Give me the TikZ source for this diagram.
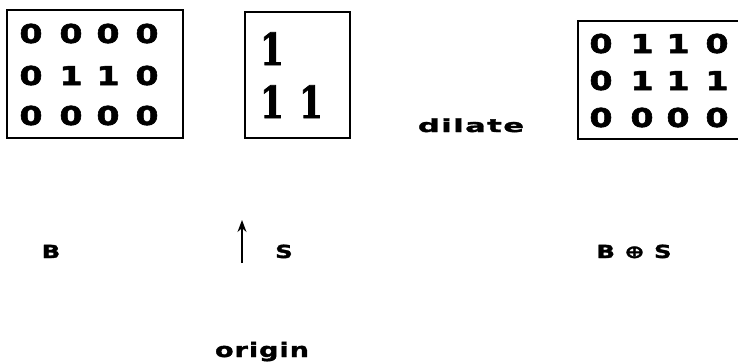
\documentclass[tikz,border=0pt]{standalone}
\usepackage{fontspec}
\newfontfamily\bitfont[FakeStretch=1.28,FakeBold=2.2]{DejaVu Sans Bold}
\newfontfamily\onefont[FakeStretch=0.78,FakeBold=1.8]{DejaVu Serif Bold}
\newfontfamily\capfont[FakeStretch=1.35,LetterSpace=5,FakeBold=1.8]{DejaVu Sans Bold}
\newfontfamily\widecapfont[FakeStretch=1.7,LetterSpace=8,FakeBold=1.8]{DejaVu Sans Bold}
\usetikzlibrary{arrows.meta, positioning}

\begin{document}
\begin{tikzpicture}[
    x=1pt, y=-1pt,
    % === STYLES ===
    matbox/.style={
        rectangle,
        draw=black,
        line width=1.3pt,
        inner sep=0pt
    },
    bit/.style={
        font=\bitfont\fontsize{26}{26}\selectfont,
        anchor=base,
        inner sep=0pt
    },
    bigbit/.style={
        font=\onefont\fontsize{44}{44}\selectfont,
        anchor=base,
        inner sep=0pt
    },
    caption/.style={
        font=\capfont\fontsize{18}{18}\selectfont,
        anchor=base,
        inner sep=0pt
    },
    arrow/.style={
        -{Stealth[length=12pt,width=9pt]},
        line width=1.4pt
    }
]
\useasboundingbox (0,0) rectangle (738,362);

% === BOXES ===
\node[matbox, minimum width=176pt, minimum height=128pt] (bbox) at (95,74) {};
\node[matbox, minimum width=105pt, minimum height=126pt] (sbox) at (297.5,75) {};
\node[matbox, minimum width=170pt, minimum height=118pt] (rbox) at (663,80) {};

% === IMAGE B ===
\foreach \row/\y/\a/\b/\c/\d in {1/43/0/0/0/0, 2/85/0/1/1/0, 3/125/0/0/0/0} {
    \node[bit] (b\row a) at (31,\y) {\a};
    \node[bit] (b\row b) at (71,\y) {\b};
    \node[bit] (b\row c) at (108,\y) {\c};
    \node[bit] (b\row d) at (147,\y) {\d};
}

% === STRUCTURING ELEMENT S ===
\node[bigbit] (s1) at (272,65) {1};
\node[bigbit] (s2) at (272,118) {1};
\node[bigbit] (s3) at (311,118) {1};

% === RESULT ===
\foreach \row/\y/\a/\b/\c/\d in {1/53/0/1/1/0, 2/90/0/1/1/1, 3/127/0/0/0/0} {
    \node[bit] (r\row a) at (601,\y) {\a};
    \node[bit] (r\row b) at (642,\y) {\b};
    \node[bit] (r\row c) at (678,\y) {\c};
    \node[bit] (r\row d) at (717,\y) {\d};
}

% === LABELS ===
\node[caption, font=\widecapfont\fontsize{18}{18}\selectfont] (dilate) at (471,132) {dilate};
\node[caption] (blabel) at (51,258) {B};
\node[caption] (slabel) at (284,258) {S};
\node[caption] (rlabel) at (634,258) {B ⊕ S};
\node[caption, font=\capfont\fontsize{20}{20}\selectfont] (origin) at (262,357) {origin};

% === ORIGIN ARROW ===
\coordinate (orgtail) at (242,263);
\coordinate (orgtip) at (242,220);
\draw[arrow] (orgtail) -- (orgtip);

\end{tikzpicture}
\end{document}
